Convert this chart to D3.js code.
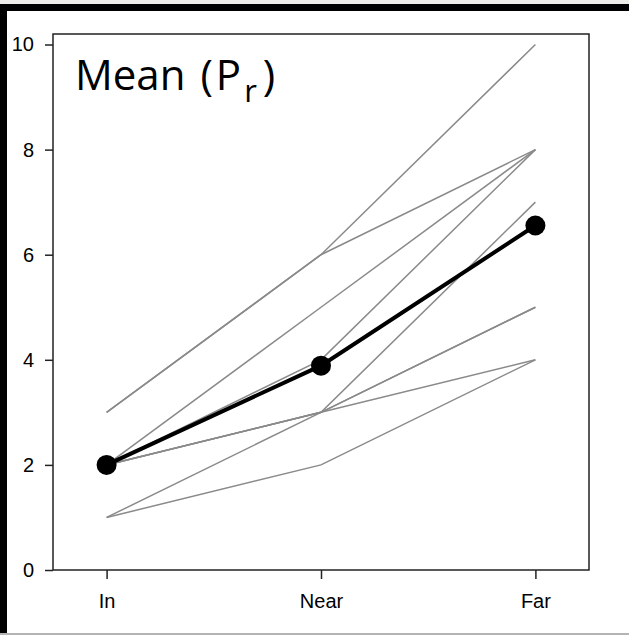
<!DOCTYPE html>
<html>
<head>
<meta charset="utf-8">
<script src="https://cdn.jsdelivr.net/npm/d3@7"></script>
<style>
  body { margin: 0; background: #fff; }
  .tick text { font-family: Arial, "Liberation Sans", sans-serif; font-size: 20px; fill: #000; }
</style>
</head>
<body>
<script>
// conditions on the x axis
const conditions = ["In", "Near", "Far"]

// one row per subject : value for In, Near, Far
const subjects = [
    [3, 6, 10],
    [3, 6, 8],
    [2, 5, 8],
    [2, 4, 8],
    [2, 3, 7],
    [2, 3, 4],
    [2, 3, 5],
    [1, 3, 5],
    [1, 2, 4]
]

const yTicks = [0, 2, 4, 6, 8, 10]

var width = 629,
    height = 635;

var svg = d3
    .select("body")
    .append("svg")
    .attr("width", width)
    .attr("height", height);

// cadre de la page (bandes noires en haut et a gauche)
svg.append("rect").attr("x", 0).attr("y", 0).attr("width", width).attr("height", 4).attr("fill", "#efedea");
svg.append("rect").attr("x", 0).attr("y", 4).attr("width", width).attr("height", 7).attr("fill", "#000");
svg.append("rect").attr("x", 0).attr("y", 4).attr("width", 7).attr("height", height - 4).attr("fill", "#000");
svg.append("rect").attr("x", 0).attr("y", height - 2).attr("width", width).attr("height", 2).attr("fill", "#b4b4b4");

var plot = { left: 53, right: 589, top: 34, bottom: 570 }

var x = d3.scalePoint()
    .domain(conditions)
    .range([plot.left, plot.right])
    .padding(0.25);

var y = d3.scaleLinear()
    .domain([0, 10.2])
    .range([plot.bottom, plot.top]);

// axes
svg.append("g")
    .attr("transform", `translate(${plot.left},0)`)
    .call(d3.axisLeft(y).tickValues(yTicks).tickSize(8).tickPadding(11));

svg.append("g")
    .attr("transform", `translate(0,${plot.bottom})`)
    .call(d3.axisBottom(x).tickSize(9).tickPadding(15));

svg.selectAll(".domain").remove();
svg.selectAll(".tick line").attr("stroke", "#222").attr("stroke-width", 1.5);

// le cadre du graphique
svg.append("rect")
    .attr("x", plot.left)
    .attr("y", plot.top)
    .attr("width", plot.right - plot.left)
    .attr("height", plot.bottom - plot.top)
    .attr("fill", "none")
    .attr("stroke", "#222")
    .attr("stroke-width", 1.5);

var line = d3.line()
    .x((d, i) => x(conditions[i]))
    .y(d => y(d));

// individual lines
svg.append("g")
    .selectAll("path")
    .data(subjects)
    .join("path")
    .attr("d", line)
    .attr("fill", "none")
    .attr("stroke", "#8a8a8a")
    .attr("stroke-width", 1.5);

// mean over subjects
var means = conditions.map((c, i) => d3.mean(subjects, s => s[i]))

svg.append("path")
    .datum(means)
    .attr("d", line)
    .attr("fill", "none")
    .attr("stroke", "#000")
    .attr("stroke-width", 4);

svg.append("g")
    .selectAll("circle")
    .data(means)
    .join("circle")
    .attr("cx", (d, i) => x(conditions[i]))
    .attr("cy", d => y(d))
    .attr("r", 10)
    .attr("fill", "#000");

// titre
var title = svg.append("text")
    .attr("x", 75)
    .attr("y", 90)
    .attr("font-family", "'Open Sans', sans-serif")
    .attr("font-size", 42)
    .attr("fill", "#000");

title.append("tspan").text("Mean");
title.append("tspan").attr("dx", 15).text("(");
title.append("tspan").attr("dx", 3).text("P");
title.append("tspan").attr("font-size", 31).attr("dx", 3).attr("dy", 12).text("r");
title.append("tspan").attr("dx", 6).attr("dy", -12).text(")");
</script>
</body>
</html>
